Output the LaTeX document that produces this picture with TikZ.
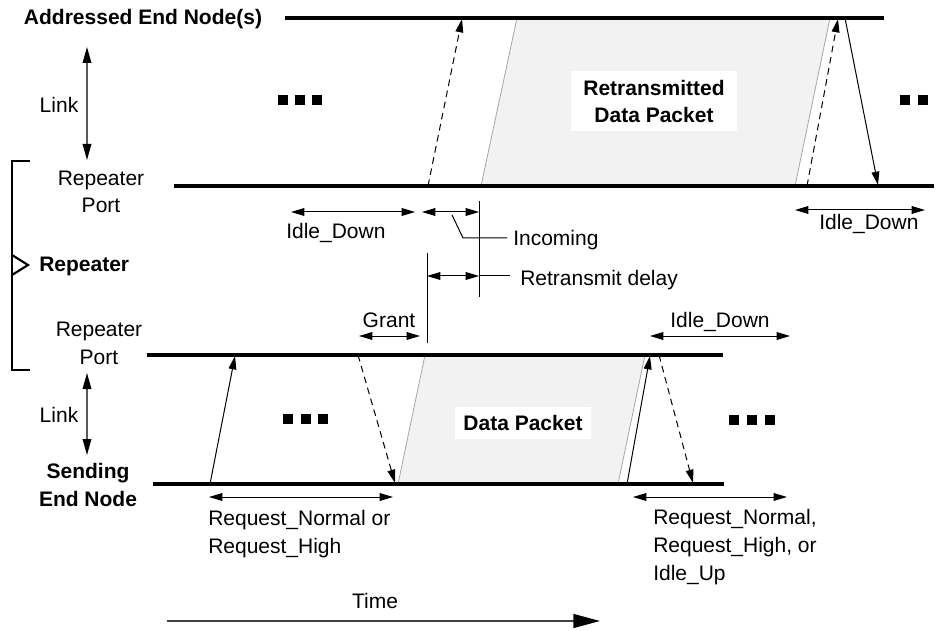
\documentclass[tikz,border=0pt]{standalone}
\usepackage{fontspec}
\setmainfont{Liberation Sans}
\usetikzlibrary{arrows.meta}

\begin{document}
\begin{tikzpicture}[x=0.75pt,y=-0.75pt,
  font=\fontsize{15.75}{20.75}\selectfont,
  >={Triangle[length=10pt,width=5.8pt]},
  lbl/.style={inner sep=0pt},
  boldlbl/.style={lbl,font=\fontsize{15.75}{20.75}\selectfont\bfseries},
  axis/.style={line width=2.3pt},
  sig/.style={line width=0.75pt,->},
  sigdash/.style={sig,dash pattern=on 5pt off 3.5pt},
  span/.style={line width=0.75pt,<->},
  marker/.style={line width=0.75pt},
  linkarrow/.style={line width=1pt,draw=black!65,
    {Triangle[length=12pt,width=6.5pt,color=black]}-{Triangle[length=12pt,width=6.5pt,color=black]}},
  pktfill/.style={fill=black!5},
  pktedge/.style={draw=black!35,line width=0.6pt},
  pktlabel/.style={fill=white,inner sep=0pt,align=center,
    font=\fontsize{15.75}{20.25}\selectfont\bfseries},
  dot/.style={fill=black,minimum size=7.5pt,inner sep=0pt},
  brace/.style={line width=2.2pt},
]
\useasboundingbox (0,0) rectangle (936,631);

% ---- time lines ----
\coordinate (addrL) at (285,18);   \coordinate (addrR) at (884,18);
\coordinate (rpaL)  at (174,186);  \coordinate (rpaR)  at (934,186);
\coordinate (rpbL)  at (147,355);  \coordinate (rpbR)  at (723,355);
\coordinate (sendL) at (153,484);  \coordinate (sendR) at (724,484);

% ---- packets ----
\coordinate (rtA) at (481,186); \coordinate (rtB) at (517,18);
\coordinate (rtC) at (830,18);  \coordinate (rtD) at (795,186);
\coordinate (dpA) at (398,484); \coordinate (dpB) at (425,355);
\coordinate (dpC) at (645,355); \coordinate (dpD) at (618,484);
\fill[pktfill] (rtA) -- (rtB) -- (rtC) -- (rtD) -- cycle;
\fill[pktfill] (dpA) -- (dpB) -- (dpC) -- (dpD) -- cycle;
\draw[pktedge] (rtA) -- (rtB);
\draw[pktedge] (rtD) -- (rtC);
\draw[pktedge] (dpA) -- (dpB);
\draw[pktedge] (dpD) -- (dpC);
\node[pktlabel,minimum width=124.5pt,minimum height=45pt] (rtlbl) at (654,101)
  {Retransmitted\\Data Packet};
\node[pktlabel,minimum width=102pt,minimum height=24pt] (dplbl) at (523,423)
  {Data Packet};

\draw[axis] (addrL) -- (addrR);
\draw[axis] (rpaL) -- (rpaR);
\draw[axis] (rpbL) -- (rpbR);
\draw[axis] (sendL) -- (sendR);

% ---- left-hand labels (multi-line ones sit on their last baseline) ----
\node[boldlbl,anchor=base] (addr) at (143,25) {Addressed End Node(s)};
\node[lbl,anchor=base] (linka) at (59,113) {Link};
\node[lbl,anchor=base,align=center] (rpa) at (101,213) {Repeater\\Port};
\node[boldlbl,anchor=base west] (rep) at (39,272) {Repeater};
\node[lbl,anchor=base,align=center] (rpb) at (99,364) {Repeater\\Port};
\node[lbl,anchor=base] (linkb) at (59,422) {Link};
\node[boldlbl,anchor=base,align=center] (send) at (88,506) {Sending\\End Node};

\coordinate (lkaT) at (87,47);  \coordinate (lkaB) at (87,160);
\coordinate (lkbT) at (87,373); \coordinate (lkbB) at (87,455);
\draw[linkarrow] (lkaT) -- (lkaB);
\draw[linkarrow] (lkbT) -- (lkbB);

% repeater bracket
\coordinate (brT) at (12,161); \coordinate (brB) at (12,370);
\draw[brace] (30,161) -- (brT) -- (brB) -- (30,370);
\draw[line width=1.6pt] (12,255) -- (28,265) -- (12,275);

% ---- signals between end node and repeater (upper link) ----
\coordinate (s1a) at (428,186); \coordinate (s1b) at (462,19);
\coordinate (s2a) at (807,186); \coordinate (s2b) at (838,19);
\coordinate (s3a) at (845,18);  \coordinate (s3b) at (878,185);
\draw[sigdash] (s1a) -- (s1b);
\draw[sigdash] (s2a) -- (s2b);
\draw[sig] (s3a) -- (s3b);

% ---- signals on the lower link ----
\coordinate (s4a) at (210,484); \coordinate (s4b) at (235,356);
\coordinate (s5a) at (358,355); \coordinate (s5b) at (395,483);
\coordinate (s6a) at (627,484); \coordinate (s6b) at (650,356);
\coordinate (s7a) at (659,355); \coordinate (s7b) at (693,483);
\draw[sig] (s4a) -- (s4b);
\draw[sigdash] (s5a) -- (s5b);
\draw[sig] (s6a) -- (s6b);
\draw[sigdash] (s7a) -- (s7b);

% ---- continuation dots ----
\foreach \x/\y [count=\i] in {283/100,300/100,317/100,905/100,923/100,
                              288/419,306/419,323/419,734/420,752/420,770/420}
  \node[dot] (dot\i) at (\x,\y) {};

% ---- interval spans ----
\coordinate (idaL) at (291,212); \coordinate (idaR) at (415,212);
\coordinate (incL) at (422,212); \coordinate (incR) at (479,212);
\coordinate (idcL) at (795,210); \coordinate (idcR) at (925,210);
\coordinate (grL) at (359,336);  \coordinate (grR) at (420,336);
\coordinate (idbL) at (650,336); \coordinate (idbR) at (790,336);
\coordinate (rdL) at (427,276);  \coordinate (rdR) at (479,276);
\coordinate (rqaL) at (209,497); \coordinate (rqaR) at (393,497);
\coordinate (rqbL) at (633,497); \coordinate (rqbR) at (787,497);
\draw[span] (idaL) -- (idaR);
\draw[span] (incL) -- (incR);
\draw[span] (idcL) -- (idcR);
\draw[span] (grL) -- (grR);
\draw[span] (idbL) -- (idbR);
\draw[span] (rdL) -- (rdR);
\draw[span] (rqaL) -- (rqaR);
\draw[span] (rqbL) -- (rqbR);

% timing markers and leaders
\coordinate (mkaT) at (479,201); \coordinate (mkaB) at (479,297);
\coordinate (mkbT) at (427,253); \coordinate (mkbB) at (427,343);
\draw[marker] (mkaT) -- (mkaB);
\draw[marker] (mkbT) -- (mkbB);
\coordinate (ldA) at (452,215); \coordinate (ldB) at (463,238);
\coordinate (ldC) at (507,238);
\draw[marker] (ldA) -- (ldB) -- (ldC);
\coordinate (rdE) at (510,276);
\draw[marker] (rdR) -- (rdE);

% ---- span labels ----
\node[lbl,anchor=base west] (idatxt) at (286,239) {Idle\_Down};
\node[lbl,anchor=base west] (inctxt) at (513,246) {Incoming};
\node[lbl,anchor=base west] (rdtxt) at (520,286) {Retransmit delay};
\node[lbl,anchor=base] (grtxt) at (389,327) {Grant};
\node[lbl,anchor=base] (idbtxt) at (720,327) {Idle\_Down};
\node[lbl,anchor=base west] (idctxt) at (819,230) {Idle\_Down};
\node[lbl,anchor=base west,align=left] (rqatxt) at (208,553)
  {Request\_Normal or\\Request\_High};
\node[lbl,anchor=base west,align=left] (rqbtxt) at (653,580)
  {Request\_Normal,\\Request\_High, or\\Idle\_Up};

% ---- time axis ----
\node[lbl,anchor=base] (timetxt) at (375,608) {Time};
\coordinate (tmL) at (167,621); \coordinate (tmR) at (600,621);
\draw[line width=1pt,draw=black!75,-{Triangle[length=20pt,width=10.5pt,color=black]}] (tmL) -- (tmR);
\end{tikzpicture}
\end{document}
